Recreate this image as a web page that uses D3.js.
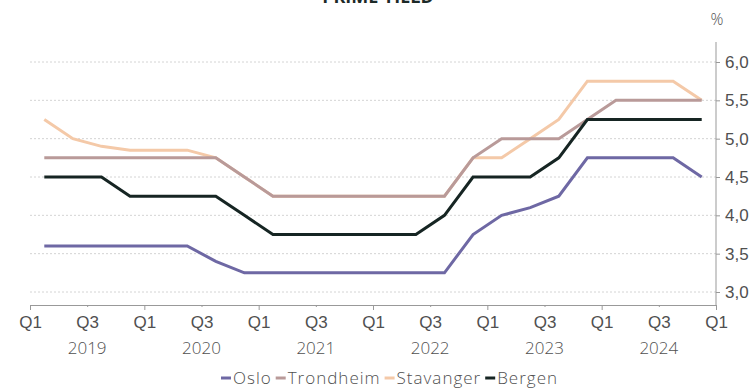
<!DOCTYPE html>
<html>
<head>
<meta charset="utf-8">
<script src="https://cdn.jsdelivr.net/npm/d3@7"></script>
<style>
  html, body { margin: 0; padding: 0; background: #fff; }
  svg { display: block; font-family: "Open Sans", "Noto Sans", sans-serif; }
</style>
</head>
<body>
<svg id="chart" width="753" height="389"></svg>
<script>
// Quarterly prime yield (%) per city, Q1 2019 – Q4 2024
const quarters = ["2019Q1","2019Q2","2019Q3","2019Q4","2020Q1","2020Q2","2020Q3","2020Q4",
                  "2021Q1","2021Q2","2021Q3","2021Q4","2022Q1","2022Q2","2022Q3","2022Q4",
                  "2023Q1","2023Q2","2023Q3","2023Q4","2024Q1","2024Q2","2024Q3","2024Q4"];
const oslo      = [3.6,3.6,3.6,3.6,3.6,3.6,3.4,3.25,3.25,3.25,3.25,3.25,3.25,3.25,3.25,3.75,4.0,4.1,4.25,4.75,4.75,4.75,4.75,4.5];
const trondheim = [4.75,4.75,4.75,4.75,4.75,4.75,4.75,4.5,4.25,4.25,4.25,4.25,4.25,4.25,4.25,4.75,5.0,5.0,5.0,5.25,5.5,5.5,5.5,5.5];
const stavanger = [5.25,5.0,4.9,4.85,4.85,4.85,4.75,4.5,4.25,4.25,4.25,4.25,4.25,4.25,4.25,4.75,4.75,5.0,5.25,5.75,5.75,5.75,5.75,5.5];
const bergen    = [4.5,4.5,4.5,4.25,4.25,4.25,4.25,4.0,3.75,3.75,3.75,3.75,3.75,3.75,4.0,4.5,4.5,4.5,4.75,5.25,5.25,5.25,5.25,5.25];
const years = ["2019","2020","2021","2022","2023","2024"];
const yTicks = [3.0,3.5,4.0,4.5,5.0,5.5,6.0];

const series = [
  { name: "Oslo",      values: oslo,      color: "#6e68a4" },
  { name: "Trondheim", values: trondheim, color: "#b99a99" },
  { name: "Stavanger", values: stavanger, color: "#f4c9a8" },
  { name: "Bergen",    values: bergen,    color: "#162523" }
];
// Trondheim is painted over Stavanger where they coincide
const drawOrder = ["Oslo", "Stavanger", "Trondheim", "Bergen"];

const svg = d3.select("#chart");
const left = 30, right = 716, axisY = 305;
const textColor = "#505050";
const axisFont = 17;

const x = d3.scaleLinear().domain([0, quarters.length]).range([left, right]);
const y = d3.scaleLinear().domain([3, 6]).range([292, 62]);

// Title (sits partly above the canvas)
svg.append("text")
  .attr("x", 378).attr("y", 3)
  .attr("text-anchor", "middle")
  .attr("font-size", 18).attr("font-weight", 700)
  .attr("fill", "#1c2a28")
  .text("PRIME YIELD");

// Horizontal dotted gridlines
svg.append("g").selectAll("line").data(yTicks).join("line")
  .attr("x1", left).attr("x2", right)
  .attr("y1", d => y(d)).attr("y2", d => y(d))
  .attr("stroke", "#d4d4d4").attr("stroke-width", 1)
  .attr("stroke-dasharray", "2,2");

// Right-hand value axis
const yAxis = d3.axisRight(y).tickValues(yTicks).tickSize(4).tickPadding(5)
  .tickFormat(d => d3.format(".1f")(d).replace(".", ","));
const gy = svg.append("g").attr("transform", `translate(${right},0)`).call(yAxis);
gy.select(".domain").remove();
gy.selectAll(".tick line").attr("stroke", "#999");
gy.selectAll(".tick text").attr("fill", textColor).attr("font-size", axisFont).attr("font-weight", 300);
svg.append("line")
  .attr("x1", right).attr("x2", right).attr("y1", 42).attr("y2", axisY)
  .attr("stroke", "#999");
svg.append("text")
  .attr("x", right + 1).attr("y", 25)
  .attr("text-anchor", "middle")
  .attr("font-size", 16).attr("font-weight", 300).attr("fill", textColor)
  .text("%");

// Quarter axis: ticks every half year, labelled Q1 / Q3
const qTicks = d3.range(0, quarters.length + 1, 2);
const xAxis = d3.axisBottom(x).tickValues(qTicks)
  .tickSize(0).tickPadding(11)
  .tickFormat(d => (d % 4 === 0 ? "Q1" : "Q3"));
const gx = svg.append("g").attr("transform", `translate(0,${axisY})`).call(xAxis);
gx.select(".domain").attr("stroke", "#999");
gx.selectAll(".tick line").remove();
gx.selectAll(".tick").append("line")
  .attr("y1", 0).attr("y2", d => (d % 4 === 0 ? 5 : 2))
  .attr("stroke", "#999");
gx.selectAll(".tick text").attr("fill", textColor).attr("font-size", axisFont).attr("font-weight", 300);

// Year labels centred under each year's Q3
svg.append("g").selectAll("text").data(years).join("text")
  .attr("x", (d, i) => x(i * 4 + 2))
  .attr("y", 354)
  .attr("text-anchor", "middle")
  .attr("font-size", axisFont).attr("font-weight", 300).attr("fill", textColor)
  .text(d => d);

// Series lines, each point centred in its quarter
const line = d3.line()
  .x((d, i) => x(i + 0.5))
  .y(d => y(d));

svg.append("g").selectAll("path")
  .data(drawOrder.map(n => series.find(s => s.name === n)))
  .join("path")
  .attr("d", d => line(d.values))
  .attr("fill", "none")
  .attr("stroke", d => d.color)
  .attr("stroke-width", 3)
  .attr("stroke-linejoin", "miter");

// Legend, centred under the plot
const legendY = 378;
const legend = svg.append("g");
let lx = 0;
series.forEach(s => {
  legend.append("line")
    .attr("x1", lx).attr("x2", lx + 10).attr("y1", 0).attr("y2", 0)
    .attr("stroke", s.color).attr("stroke-width", 3);
  const t = legend.append("text")
    .attr("x", lx + 12).attr("y", 0).attr("dy", "0.36em")
    .attr("font-size", 17).attr("letter-spacing", 1).attr("font-weight", 300)
    .attr("fill", textColor)
    .text(s.name);
  lx += 12 + t.node().getComputedTextLength() + 4;
});
legend.attr("transform", `translate(${389.5 - (lx - 4) / 2},${legendY})`);
</script>
</body>
</html>
